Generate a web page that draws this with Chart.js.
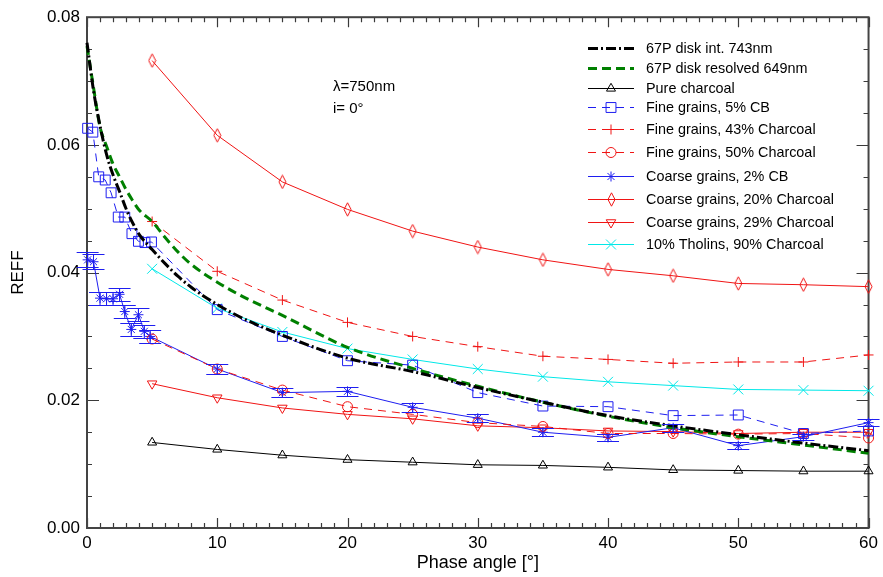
<!DOCTYPE html>
<html><head><meta charset="utf-8">
<script src="https://cdn.jsdelivr.net/npm/chart.js@4.4.0/dist/chart.umd.min.js"></script>
<style>html,body{margin:0;padding:0;background:#fff;}#wrap{width:883px;height:577px;position:relative;}</style>
</head><body><div id="wrap"><canvas id="c" width="883" height="577"></canvas></div>
<script>
// ---------------- DATA ----------------
const xTickLabels = [0, 10, 20, 30, 40, 50, 60];
const yTickLabels = [0.00, 0.02, 0.04, 0.06, 0.08];

const diskX = [0,0.5,1,1.5,2,2.5,3,3.5,4,5,6,7,8,10,12,15,20,25,30,35,40,45,50,55,60];
const diskIntY = [0.0760,0.0685,0.0630,0.0585,0.0553,0.0527,0.0500,0.0478,0.0460,0.0436,0.0414,0.0394,0.0377,0.0350,0.0328,0.0302,0.0266,0.0245,0.0220,0.0197,0.0176,0.0160,0.0146,0.0133,0.0121];
const diskResY = [0.0755,0.0690,0.0628,0.0598,0.0570,0.0550,0.0530,0.0513,0.0498,0.0480,0.0455,0.0432,0.0413,0.0385,0.0362,0.0333,0.0283,0.0250,0.0222,0.0197,0.0175,0.0157,0.0143,0.0130,0.0117];

const phase5 = [5,10,15,20,25,30,35,40,45,50,55,60];
const pureCharcoalY = [0.0134,0.0123,0.0114,0.0107,0.0103,0.0099,0.0098,0.0095,0.0091,0.0090,0.0089,0.0089];

const fine5CBX = [0.05,0.45,0.9,1.4,1.85,2.4,2.9,3.45,3.95,4.45,4.95,10,15,20,25,30,35,40,45,50,55,60];
const fine5CBY = [0.0626,0.0620,0.0550,0.0545,0.0525,0.0487,0.0487,0.0461,0.0449,0.0447,0.0448,0.0342,0.0300,0.0262,0.0255,0.0212,0.0191,0.0190,0.0176,0.0177,0.0148,0.0152];

const fine43Y = [0.0480,0.0402,0.0357,0.0322,0.0300,0.0284,0.0269,0.0264,0.0258,0.0260,0.0260,0.0271];
const fine50Y = [0.0296,0.0249,0.0216,0.0190,0.0178,0.0165,0.0159,0.0148,0.0148,0.0147,0.0148,0.0141];

const coarse2CBX = [0.05,0.5,1.0,1.5,2.0,2.5,2.9,3.4,3.95,4.4,4.85,10,15,20,25,30,35,40,45,50,55,60];
const coarse2CBY = [0.0420,0.0417,0.0360,0.0359,0.0359,0.0366,0.0339,0.0311,0.0334,0.0308,0.0300,0.0249,0.0212,0.0214,0.0189,0.0172,0.0150,0.0142,0.0157,0.0129,0.0143,0.0165];
const coarse2CBErr = [0.0012,0.0012,0.0010,0.0010,0.0010,0.0010,0.0010,0.0010,0.0010,0.0010,0.0010,0.0008,0.0007,0.0007,0.0007,0.0006,0.0006,0.0006,0.0006,0.0005,0.0005,0.0006];

const coarse20Y = [0.0732,0.0615,0.0542,0.0499,0.0465,0.0440,0.0420,0.0405,0.0395,0.0383,0.0381,0.0378];
const coarse29Y = [0.0226,0.0204,0.0188,0.0178,0.0171,0.0160,0.0157,0.0152,0.0151,0.0148,0.0150,0.0150];
const tholinsY = [0.0406,0.0344,0.0307,0.0281,0.0264,0.0249,0.0237,0.0229,0.0223,0.0217,0.0216,0.0215];

const annotationLines = ['λ=750nm', 'i= 0°'];

// ---------------- HELPERS ----------------
const pts = (xs, ys) => xs.map((x, i) => ({x: x, y: ys[i]}));
const RED = '#f01414', BLUE = '#1e1ef0', CYAN = '#00e8e8', GREEN = '#008000';
const NONE = 'rgba(0,0,0,0)';

// thin diamond marker
const thinDiamond = document.createElement('canvas');
thinDiamond.width = 9; thinDiamond.height = 15;
(function(){
  const g = thinDiamond.getContext('2d');
  g.strokeStyle = RED; g.lineWidth = 1;
  g.beginPath(); g.moveTo(4.5,0.8); g.lineTo(8,7.5); g.lineTo(4.5,14.2); g.lineTo(1,7.5); g.closePath(); g.stroke();
})();

function lineDs(label, data, color, opts) {
  return Object.assign({
    label: label, data: data, borderColor: color, backgroundColor: NONE,
    pointBorderColor: color, pointBackgroundColor: NONE,
    borderWidth: 1, pointBorderWidth: 1, tension: 0, clip: false, showLine: true
  }, opts);
}

const datasets = [
  lineDs('67P disk int. 743nm', pts(diskX, diskIntY), '#000', {borderWidth: 3, borderDash: [10,3,2,3], pointRadius: 0, cubicInterpolationMode: 'monotone'}),
  lineDs('67P disk resolved 649nm', pts(diskX, diskResY), GREEN, {borderWidth: 3, borderDash: [9,5], pointRadius: 0, cubicInterpolationMode: 'monotone'}),
  lineDs('Pure charcoal', pts(phase5, pureCharcoalY), '#000', {pointStyle: 'triangle', pointRadius: 5.2}),
  lineDs('Fine grains, 5% CB', pts(fine5CBX, fine5CBY), BLUE, {borderDash: [8,6], pointStyle: 'rect', pointRadius: 7}),
  lineDs('Fine grains, 43% Charcoal', pts(phase5, fine43Y), RED, {borderDash: [8,6], pointStyle: 'cross', pointRadius: 5}),
  lineDs('Fine grains, 50% Charcoal', pts(phase5, fine50Y), RED, {borderDash: [8,6], pointStyle: 'circle', pointRadius: 5}),
  lineDs('Coarse grains, 2% CB', pts(coarse2CBX, coarse2CBY), BLUE, {pointStyle: 'star', pointRadius: 5, errors: coarse2CBErr}),
  lineDs('Coarse grains, 20% Charcoal', pts(phase5, coarse20Y), RED, {pointStyle: thinDiamond, pointRadius: 7}),
  lineDs('Coarse grains, 29% Charcoal', pts(phase5, coarse29Y), RED, {pointStyle: 'triangle', pointRotation: 180, pointRadius: 5.5}),
  lineDs('10% Tholins, 90% Charcoal', pts(phase5, tholinsY), CYAN, {pointStyle: 'crossRot', pointRadius: 7})
];

function drawMarker(ctx, ds, x, y) {
  if (!ds.pointRadius) return;
  ctx.save();
  ctx.strokeStyle = ds.pointBorderColor; ctx.fillStyle = NONE; ctx.lineWidth = 1; ctx.setLineDash([]);
  const ps = ds.pointStyle;
  if (ps instanceof HTMLCanvasElement) {
    ctx.drawImage(ps, Math.round(x - ps.width/2), Math.round(y - ps.height/2));
  } else if (Chart.helpers && Chart.helpers.drawPoint) {
    Chart.helpers.drawPoint(ctx, {pointStyle: ps, rotation: ds.pointRotation || 0, radius: ds.pointRadius, borderWidth: 1}, x, y);
  }
  ctx.restore();
}

// frame + inward ticks on all four sides
const frameTicks = {
  id: 'frameTicks',
  beforeDatasetsDraw(chart) {
    const {ctx, chartArea: a, scales: {x, y}} = chart;
    ctx.save();
    ctx.strokeStyle = '#3a3a3a'; ctx.lineWidth = 1.2;
    for (let v = 0; v <= 60; v += 1) {
      const px = Math.round(x.getPixelForValue(v)) + 0.5;
      const L = (v % 10 === 0) ? 10 : 5;
      ctx.beginPath(); ctx.moveTo(px, a.bottom); ctx.lineTo(px, a.bottom - L);
      ctx.moveTo(px, a.top); ctx.lineTo(px, a.top + L); ctx.stroke();
    }
    for (let k = 0; k <= 16; k++) {
      const v = k * 0.005;
      const py = Math.round(y.getPixelForValue(v)) + 0.5;
      const L = (k % 4 === 0) ? 12 : 5;
      ctx.beginPath(); ctx.moveTo(a.left, py); ctx.lineTo(a.left + L, py);
      ctx.moveTo(a.right, py); ctx.lineTo(a.right - L, py); ctx.stroke();
    }
    ctx.strokeStyle = '#444'; ctx.lineWidth = 2;
    ctx.strokeRect(a.left, a.top, a.right - a.left, a.bottom - a.top);
    ctx.restore();
  }
};

// vertical error bars with wide caps
const errorBars = {
  id: 'errorBars',
  afterDatasetsDraw(chart) {
    const {ctx, scales: {x, y}} = chart;
    chart.data.datasets.forEach(ds => {
      if (!ds.errors) return;
      ctx.save(); ctx.strokeStyle = ds.borderColor; ctx.lineWidth = 1; ctx.setLineDash([]);
      ds.data.forEach((p, i) => {
        const e = ds.errors[i];
        const px = x.getPixelForValue(p.x);
        const y1 = Math.round(y.getPixelForValue(p.y + e)) + 0.5;
        const y2 = Math.round(y.getPixelForValue(p.y - e)) + 0.5;
        const w = 11;
        ctx.beginPath();
        ctx.moveTo(px, y1); ctx.lineTo(px, y2);
        ctx.moveTo(px - w, y1); ctx.lineTo(px + w, y1);
        ctx.moveTo(px - w, y2); ctx.lineTo(px + w, y2);
        ctx.stroke();
      });
      ctx.restore();
    });
  }
};

// legend + annotation
const legendRowsY = [48.3, 67.7, 87.7, 107.3, 129.3, 152.3, 175.7, 198.7, 221.7, 244.3];
const customLegend = {
  id: 'customLegend',
  afterDraw(chart) {
    const {ctx} = chart;
    ctx.save();
    chart.data.datasets.forEach((ds, i) => {
      const yy = legendRowsY[i];
      ctx.strokeStyle = ds.borderColor; ctx.lineWidth = ds.borderWidth;
      ctx.setLineDash(ds.borderDash || []);
      ctx.beginPath(); ctx.moveTo(588, Math.round(yy) + 0.5); ctx.lineTo(634, Math.round(yy) + 0.5); ctx.stroke();
      ctx.setLineDash([]);
      drawMarker(ctx, ds, 611, Math.round(yy) + 0.5);
      ctx.fillStyle = '#000'; ctx.font = '14.4px "Liberation Sans", Arial, sans-serif';
      ctx.textAlign = 'left'; ctx.textBaseline = 'middle';
      ctx.fillText(ds.label, 646, yy + 1);
    });
    ctx.font = '15px "Liberation Sans", Arial, sans-serif';
    ctx.fillStyle = '#000'; ctx.textAlign = 'left'; ctx.textBaseline = 'middle';
    ctx.fillText(annotationLines[0], 333, 87);
    ctx.fillText(annotationLines[1], 333, 109);
    ctx.restore();
  }
};

const FONT = '"Liberation Sans", Arial, sans-serif';
new Chart(document.getElementById('c'), {
  type: 'line',
  data: {datasets: datasets},
  options: {
    responsive: false, animation: false, devicePixelRatio: 1,
    layout: {padding: {top: 14, right: 12, left: 0, bottom: 0}},
    plugins: {legend: {display: false}, tooltip: {enabled: false}},
    scales: {
      x: {
        type: 'linear', min: 0, max: 60,
        afterBuildTicks: s => { s.ticks = xTickLabels.map(v => ({value: v})); },
        afterFit: s => { s.height = 49; },
        grid: {display: false, drawTicks: false}, border: {display: false},
        ticks: {color: '#000', font: {family: FONT, size: 17}, padding: 5, maxRotation: 0, autoSkip: false},
        title: {display: true, text: 'Phase angle [°]', color: '#000', font: {family: FONT, size: 18}, padding: {top: 0, bottom: 3}}
      },
      y: {
        type: 'linear', min: 0, max: 0.08,
        afterBuildTicks: s => { s.ticks = yTickLabels.map(v => ({value: v})); },
        afterFit: s => { s.width = 87; },
        grid: {display: false, drawTicks: false}, border: {display: false},
        ticks: {color: '#000', font: {family: FONT, size: 17}, padding: 7, callback: v => v.toFixed(2)},
        title: {display: true, text: 'REFF', color: '#000', font: {family: FONT, size: 17}, padding: {top: 8, bottom: 0}}
      }
    }
  },
  plugins: [frameTicks, errorBars, customLegend]
});
</script></body></html>
